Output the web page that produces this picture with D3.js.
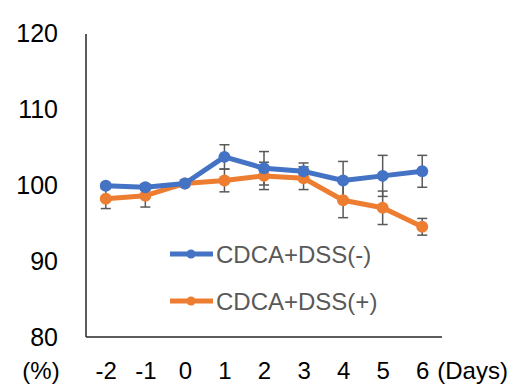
<!DOCTYPE html>
<html>
<head>
<meta charset="utf-8">
<script src="https://cdn.jsdelivr.net/npm/d3@7"></script>
<style>
  body { margin: 0; background: #fff; }
  svg { font-family: "Liberation Sans", Arial, sans-serif; }
</style>
</head>
<body>
<div id="chart"></div>
<script>
"use strict";

// days on x axis
var days = ["-2", "-1", "0", "1", "2", "3", "4", "5", "6"];
var yTicks = [80, 90, 100, 110, 120];

var seriesNames = ["CDCA+DSS(-)", "CDCA+DSS(+)"];
var seriesColors = ["#4472C4", "#ED7D31"];

var dssMinus = [99.9, 99.7, 100.2, 103.7, 102.2, 101.8, 100.6, 101.2, 101.8];
var dssMinusErr = [0.3, 0.4, 0.3, 1.6, 2.2, 1.1, 2.5, 2.7, 2.1];
var dssPlus = [98.2, 98.6, 100.2, 100.6, 101.2, 100.9, 98.0, 97.0, 94.5];
var dssPlusErr = [1.3, 1.5, 0.4, 1.5, 1.8, 1.5, 2.3, 2.2, 1.1];

var W = 512, H = 388;

var svg = d3.select("#chart").append("svg")
    .attr("width", W)
    .attr("height", H);

var x = d3.scalePoint()
    .domain(days)
    .range([86, 442])
    .padding(0.5);

var y = d3.scaleLinear()
    .domain([80, 120])
    .range([337, 33]);

// y axis
var yAxis = svg.append("g")
    .attr("transform", "translate(86,0)")
    .call(d3.axisLeft(y).tickValues(yTicks).tickSize(0).tickPadding(28).tickFormat(d3.format("d")));
yAxis.select(".domain").remove();
yAxis.selectAll("text")
    .attr("font-size", "25px")
    .attr("font-family", "Liberation Sans, Arial, sans-serif")
    .attr("fill", "#000");

// x axis
var xAxis = svg.append("g")
    .attr("transform", "translate(0,337)")
    .call(d3.axisBottom(x).tickSize(0).tickPadding(25));
xAxis.select(".domain").remove();
xAxis.selectAll("text")
    .attr("font-size", "24px")
    .attr("font-family", "Liberation Sans, Arial, sans-serif")
    .attr("fill", "#000");

// axis lines
svg.append("line")
    .attr("x1", 86).attr("x2", 86)
    .attr("y1", y(120) + 1).attr("y2", y(80))
    .attr("stroke", "#262626").attr("stroke-width", 1.5);
svg.append("line")
    .attr("x1", 86).attr("x2", 442)
    .attr("y1", y(80)).attr("y2", y(80))
    .attr("stroke", "#262626").attr("stroke-width", 1.5);

// unit labels
svg.append("text")
    .attr("x", 41).attr("y", 337 + 25)
    .attr("dy", "0.71em")
    .attr("text-anchor", "middle")
    .attr("font-size", "24px")
    .attr("fill", "#000")
    .text("(%)");
svg.append("text")
    .attr("x", x("6") + 15).attr("y", 337 + 25)
    .attr("dy", "0.71em")
    .attr("font-size", "24px")
    .attr("fill", "#000")
    .text("(Days)");

var series = [
  { name: seriesNames[0], color: seriesColors[0], values: dssMinus, err: dssMinusErr },
  { name: seriesNames[1], color: seriesColors[1], values: dssPlus, err: dssPlusErr }
];

var line = d3.line()
    .x(function(d, i) { return x(days[i]); })
    .y(function(d) { return y(d); });

// error bars
series.forEach(function(s) {
  var g = svg.append("g").attr("class", "err");
  s.values.forEach(function(v, i) {
    var cx = x(days[i]);
    var top = y(v + s.err[i]), bot = y(v - s.err[i]);
    g.append("line").attr("x1", cx).attr("x2", cx).attr("y1", top).attr("y2", bot)
      .attr("stroke", "#595959").attr("stroke-width", 1.5);
    g.append("line").attr("x1", cx - 5).attr("x2", cx + 5).attr("y1", top).attr("y2", top)
      .attr("stroke", "#595959").attr("stroke-width", 1.5);
    g.append("line").attr("x1", cx - 5).attr("x2", cx + 5).attr("y1", bot).attr("y2", bot)
      .attr("stroke", "#595959").attr("stroke-width", 1.5);
  });
});

// lines + markers
series.slice().reverse().forEach(function(s) {
  svg.append("path")
    .datum(s.values)
    .attr("d", line)
    .attr("fill", "none")
    .attr("stroke", s.color)
    .attr("stroke-width", 5)
    .attr("stroke-linejoin", "round");
  svg.selectAll(null)
    .data(s.values)
    .enter()
    .append("circle")
    .attr("cx", function(d, i) { return x(days[i]); })
    .attr("cy", function(d) { return y(d); })
    .attr("r", 6)
    .attr("fill", s.color);
});

// legend
var legend = svg.append("g").attr("class", "legend");
series.forEach(function(s, i) {
  var ly = 254 + i * 47;
  legend.append("line")
    .attr("x1", 170).attr("x2", 213)
    .attr("y1", ly).attr("y2", ly)
    .attr("stroke", s.color).attr("stroke-width", 5);
  legend.append("circle")
    .attr("cx", 191).attr("cy", ly).attr("r", 4.5)
    .attr("fill", s.color);
  legend.append("text")
    .attr("x", 216).attr("y", ly)
    .attr("dy", "0.36em")
    .attr("font-size", "24px")
    .attr("fill", "#595959")
    .text(s.name);
});
</script>
</body>
</html>
